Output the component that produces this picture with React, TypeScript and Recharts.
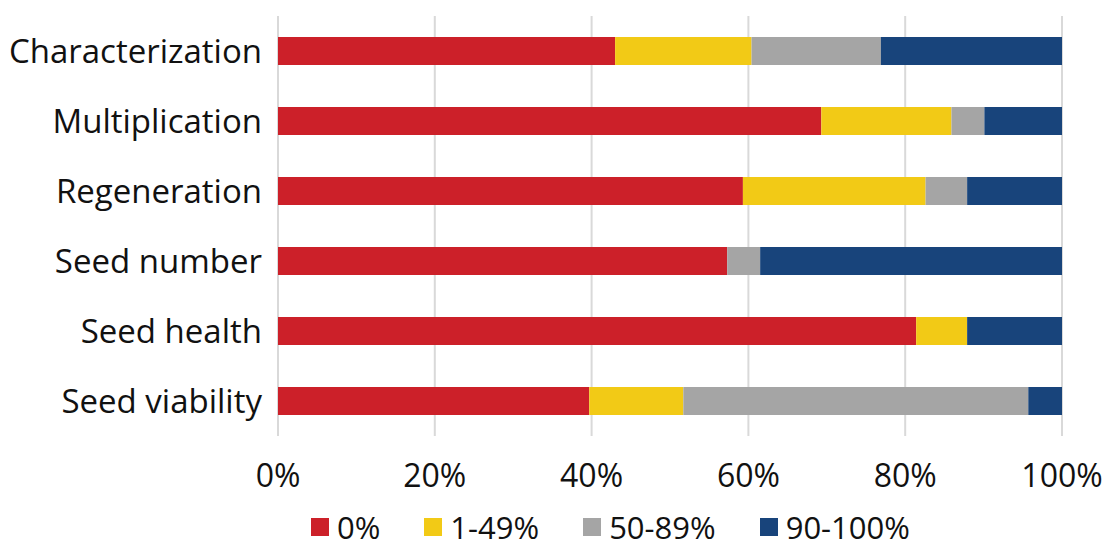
import { BarChart, Bar, XAxis, YAxis, CartesianGrid, Legend } from 'recharts'

const categories = ['Characterization', 'Multiplication', 'Regeneration', 'Seed number', 'Seed health', 'Seed viability']
const seriesNames = ['0%', '1-49%', '50-89%', '90-100%']
const seriesColors = ['#CC2029', '#F2CA16', '#A5A5A5', '#18447B']

// share of accessions per class, % of each row
const zeroPct = [43.0, 69.3, 59.3, 57.3, 81.4, 39.7]
const lowPct = [17.4, 16.6, 23.3, 0, 6.5, 12.0]
const midPct = [16.5, 4.2, 5.3, 4.2, 0, 44.0]
const highPct = [23.1, 9.9, 12.1, 38.5, 12.1, 4.3]
const xTicks = [0, 20, 40, 60, 80, 100]

const FONT = "'Open Sans', sans-serif"

const data = categories.map((name, i) => ({
  name,
  [seriesNames[0]]: zeroPct[i],
  [seriesNames[1]]: lowPct[i],
  [seriesNames[2]]: midPct[i],
  [seriesNames[3]]: highPct[i],
}))

function LegendContent() {
  return (
    <div style={{ display: 'flex', alignItems: 'center', height: 26, paddingLeft: 311, fontFamily: FONT, fontSize: 31, color: '#111' }}>
      {seriesNames.map((s, i) => (
        <div key={s} style={{ display: 'flex', alignItems: 'center', marginRight: 44 }}>
          <span style={{ display: 'inline-block', width: 18, height: 18, background: seriesColors[i], marginRight: 8 }} />
          <span style={{ lineHeight: '26px' }}>{s}</span>
        </div>
      ))}
    </div>
  )
}

export default function App() {
  return (
    <div style={{ position: 'absolute', left: 0, top: 0, width: 1112, height: 549, background: '#fff', fontFamily: FONT }}>
      <BarChart
        width={1112}
        height={549}
        data={data}
        layout="vertical"
        barSize={28}
        margin={{ top: 16, right: 50, left: 0, bottom: 0 }}
      >
        <CartesianGrid horizontal={false} stroke="#D9D9D9" strokeWidth={2} />
        <XAxis
          type="number"
          domain={[0, 100]}
          ticks={xTicks}
          tickFormatter={(v: number) => `${v}%`}
          axisLine={false}
          tickLine={false}
          tickSize={0}
          tickMargin={28}
          height={87}
          interval={0}
          tick={{ fontSize: 32, fill: '#111', fontFamily: FONT }}
        />
        <YAxis
          type="category"
          dataKey="name"
          width={278}
          axisLine={false}
          tickLine={false}
          tickSize={0}
          tickMargin={16}
          interval={0}
          tick={{ fontSize: 33, fill: '#111', fontFamily: FONT }}
        />
        <Legend verticalAlign="bottom" content={<LegendContent />} wrapperStyle={{ bottom: 9 }} />
        {seriesNames.map((s, i) => (
          <Bar key={s} dataKey={s} stackId="a" fill={seriesColors[i]} isAnimationActive={false} />
        ))}
      </BarChart>
    </div>
  )
}
